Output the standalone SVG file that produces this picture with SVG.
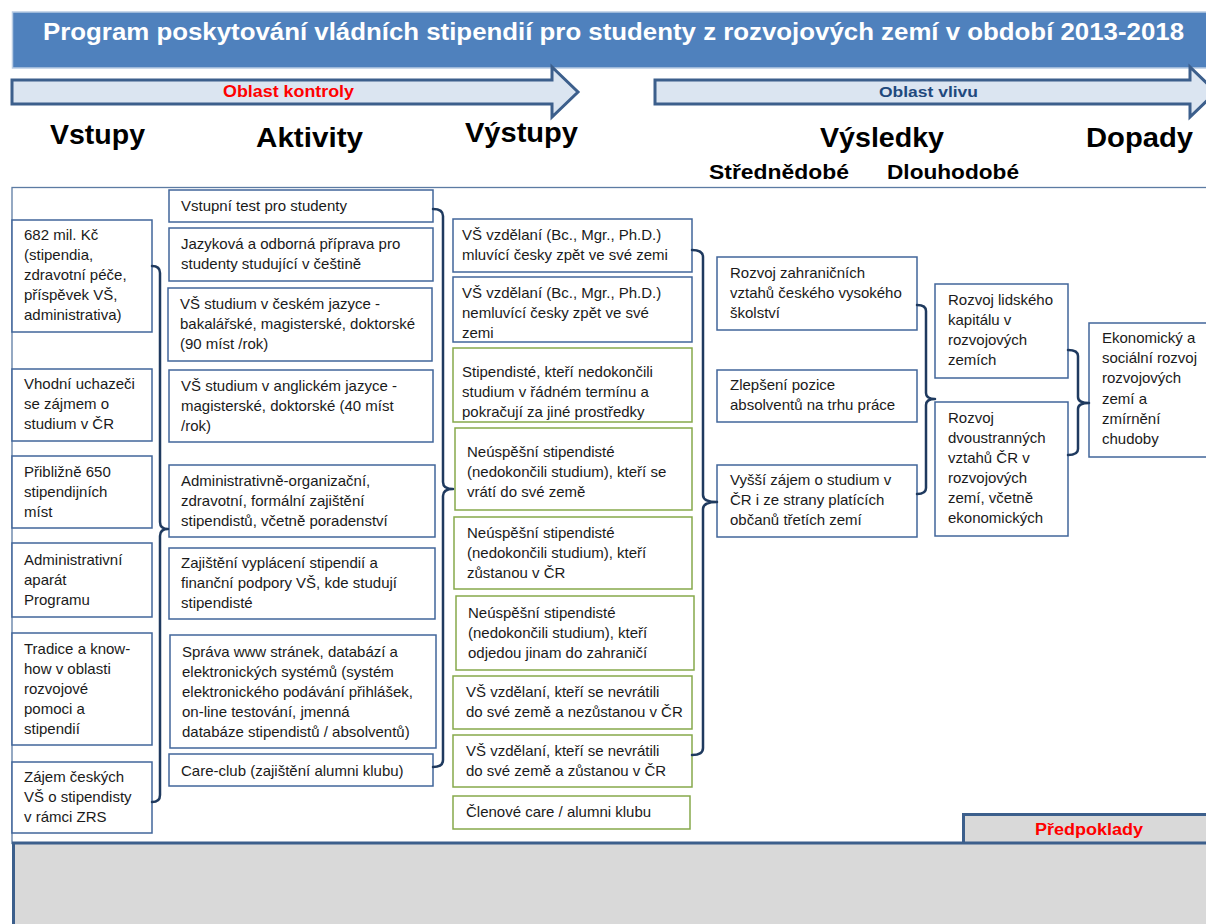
<svg xmlns="http://www.w3.org/2000/svg" width="1206" height="924" viewBox="0 0 1206 924">
<style>
.bg{fill:#FFFFFF}
.box{fill:#FFFFFF;stroke:#41669A;stroke-width:1.5}
.gbox{fill:#FFFFFF;stroke:#86A94B;stroke-width:1.5}
.t{font-family:'Liberation Sans',Arial,sans-serif;font-size:15px;fill:#1A1A1A}
.h{font-family:'Liberation Sans',Arial,sans-serif;font-weight:bold;fill:#000000}
.brace{fill:none;stroke:#1F3A5F;stroke-width:2.5;stroke-linejoin:round;stroke-linecap:round}
.arrow{fill:#DBE5F1;stroke:#3C5F8C;stroke-width:3;stroke-linejoin:miter}
.gray{fill:#D9D9D9;stroke:#3C5F8C;stroke-width:3}
.frame{fill:none;stroke:#5C7BA3;stroke-width:1.3}
</style>
<rect class="bg" x="0" y="0" width="1206" height="924"/>

<g id="title">
<rect x="12.5" y="12" width="1200" height="56" fill="#4F81BD" stroke="#B8CCE4" stroke-width="1.5"/>
<text x="43" y="40" class="h" style="fill:#FFFFFF;font-size:23px" textLength="1141" lengthAdjust="spacingAndGlyphs">Program poskytování vládních stipendií pro studenty z rozvojových zemí v období 2013-2018</text>
</g>

<g id="oblast-kontroly">
<polygon class="arrow" points="12,80 552,80 552,67 578,92 552,117 552,104 12,104"/>
<text x="223" y="97" class="h" style="fill:#FF0000;font-size:16px" textLength="131" lengthAdjust="spacingAndGlyphs">Oblast kontroly</text>
</g>
<g id="oblast-vlivu">
<polygon class="arrow" points="655,80 1190,80 1190,67 1216,92 1190,117 1190,104 655,104"/>
<text x="879" y="97" class="h" style="fill:#1F497D;font-size:15px" textLength="99" lengthAdjust="spacingAndGlyphs">Oblast vlivu</text>
</g>

<g id="headings">
<text x="50" y="144" class="h" style="font-size:28px" textLength="95" lengthAdjust="spacingAndGlyphs">Vstupy</text>
<text x="256" y="147" class="h" style="font-size:28px" textLength="107" lengthAdjust="spacingAndGlyphs">Aktivity</text>
<text x="465" y="142" class="h" style="font-size:28px" textLength="113" lengthAdjust="spacingAndGlyphs">Výstupy</text>
<text x="820" y="147" class="h" style="font-size:28px" textLength="124" lengthAdjust="spacingAndGlyphs">Výsledky</text>
<text x="1086" y="147" class="h" style="font-size:28px" textLength="107" lengthAdjust="spacingAndGlyphs">Dopady</text>
<text x="709" y="179" class="h" style="font-size:21px" textLength="140" lengthAdjust="spacingAndGlyphs">Střednědobé</text>
<text x="887" y="179" class="h" style="font-size:21px" textLength="132" lengthAdjust="spacingAndGlyphs">Dlouhodobé</text>
</g>

<rect class="frame" x="12" y="187.5" width="1210" height="656"/>

<g id="predpoklady">
<rect class="gray" x="963.5" y="814.5" width="250" height="29"/>
<rect class="gray" x="13.5" y="843" width="1200" height="90"/>
<text x="1035" y="835" class="h" style="fill:#FF0000;font-size:16px" textLength="108" lengthAdjust="spacingAndGlyphs">Předpoklady</text>
</g>

<!-- Vstupy -->
<g id="in1"><rect class="box" x="12" y="220" width="140" height="112"/>
<text class="t"><tspan x="24" y="240">682 mil. Kč</tspan><tspan x="24" y="260">(stipendia,</tspan><tspan x="24" y="280">zdravotní péče,</tspan><tspan x="24" y="300">příspěvek VŠ,</tspan><tspan x="24" y="320">administrativa)</tspan></text></g>
<g id="in2"><rect class="box" x="12" y="369" width="140" height="72"/>
<text class="t"><tspan x="24" y="389">Vhodní uchazeči</tspan><tspan x="24" y="409">se zájmem  o</tspan><tspan x="24" y="429">studium v ČR</tspan></text></g>
<g id="in3"><rect class="box" x="12" y="456" width="140" height="72"/>
<text class="t"><tspan x="24" y="477">Přibližně 650</tspan><tspan x="24" y="497">stipendijních</tspan><tspan x="24" y="517">míst</tspan></text></g>
<g id="in4"><rect class="box" x="12" y="543" width="140" height="74"/>
<text class="t"><tspan x="24" y="565">Administrativní</tspan><tspan x="24" y="585">aparát</tspan><tspan x="24" y="605">Programu</tspan></text></g>
<g id="in5"><rect class="box" x="12" y="633" width="140" height="112"/>
<text class="t"><tspan x="24" y="654">Tradice a know-</tspan><tspan x="24" y="674">how v oblasti</tspan><tspan x="24" y="694">rozvojové</tspan><tspan x="24" y="714">pomoci a</tspan><tspan x="24" y="734">stipendií</tspan></text></g>
<g id="in6"><rect class="box" x="12" y="762" width="140" height="71"/>
<text class="t"><tspan x="24" y="782">Zájem českých</tspan><tspan x="24" y="802">VŠ o stipendisty</tspan><tspan x="24" y="822">v rámci ZRS</tspan></text></g>

<!-- Aktivity -->
<g id="a1"><rect class="box" x="169" y="190" width="264" height="32"/>
<text class="t"><tspan x="181" y="211">Vstupní test pro studenty</tspan></text></g>
<g id="a2"><rect class="box" x="169" y="228" width="264" height="53"/>
<text class="t"><tspan x="181" y="249">Jazyková a odborná příprava pro</tspan><tspan x="181" y="269">studenty studující v češtině</tspan></text></g>
<g id="a3"><rect class="box" x="168" y="288" width="264" height="73"/>
<text class="t"><tspan x="180" y="309">VŠ studium v českém jazyce  -</tspan><tspan x="180" y="329">bakalářské, magisterské, doktorské</tspan><tspan x="180" y="349">(90 míst /rok)</tspan></text></g>
<g id="a4"><rect class="box" x="169" y="370" width="264" height="72"/>
<text class="t"><tspan x="181" y="391">VŠ studium v anglickém jazyce -</tspan><tspan x="181" y="411">magisterské, doktorské (40 míst</tspan><tspan x="181" y="431">/rok)</tspan></text></g>
<g id="a5"><rect class="box" x="169" y="465" width="266" height="72"/>
<text class="t"><tspan x="181" y="486">Administrativně-organizační,</tspan><tspan x="181" y="506">zdravotní, formální zajištění</tspan><tspan x="181" y="526">stipendistů, včetně poradenství</tspan></text></g>
<g id="a6"><rect class="box" x="169" y="548" width="266" height="71"/>
<text class="t"><tspan x="181" y="568">Zajištění vyplácení stipendií a</tspan><tspan x="181" y="588">finanční podpory VŠ, kde studují</tspan><tspan x="181" y="608">stipendisté</tspan></text></g>
<g id="a7"><rect class="box" x="170" y="635" width="266" height="113"/>
<text class="t"><tspan x="182" y="657">Správa www  stránek, databází a</tspan><tspan x="182" y="677">elektronických systémů (systém</tspan><tspan x="182" y="697">elektronického podávání přihlášek,</tspan><tspan x="182" y="717">on-line testování,  jmenná</tspan><tspan x="182" y="737">databáze stipendistů / absolventů)</tspan></text></g>
<g id="a8"><rect class="box" x="169" y="754" width="264" height="32"/>
<text class="t"><tspan x="181" y="776">Care-club (zajištění alumni klubu)</tspan></text></g>

<!-- Výstupy -->
<g id="o1"><rect class="box" x="453" y="219" width="239" height="53"/>
<text class="t"><tspan x="462" y="240">VŠ vzdělaní (Bc., Mgr., Ph.D.)</tspan><tspan x="462" y="260">mluvící česky zpět ve své zemi</tspan></text></g>
<g id="o2"><rect class="box" x="453" y="277" width="239" height="65"/>
<text class="t"><tspan x="462" y="298">VŠ vzdělaní (Bc., Mgr., Ph.D.)</tspan><tspan x="462" y="318">nemluvící česky zpět ve své</tspan><tspan x="462" y="338">zemi</tspan></text></g>
<g id="o3"><rect class="gbox" x="453" y="348" width="239" height="74"/>
<text class="t"><tspan x="462" y="377">Stipendisté, kteří nedokončili</tspan><tspan x="462" y="397">studium v řádném termínu a</tspan><tspan x="462" y="417">pokračují za jiné prostředky</tspan></text></g>
<g id="o4"><rect class="gbox" x="455" y="428" width="237" height="82"/>
<text class="t"><tspan x="467" y="457">Neúspěšní stipendisté</tspan><tspan x="467" y="477">(nedokončili studium), kteří se</tspan><tspan x="467" y="497">vrátí do své země</tspan></text></g>
<g id="o5"><rect class="gbox" x="454" y="517" width="238" height="72"/>
<text class="t"><tspan x="467" y="538">Neúspěšní stipendisté</tspan><tspan x="467" y="558">(nedokončili studium), kteří</tspan><tspan x="467" y="578">zůstanou v ČR</tspan></text></g>
<g id="o6"><rect class="gbox" x="456" y="596" width="238" height="74"/>
<text class="t"><tspan x="468" y="618">Neúspěšní stipendisté</tspan><tspan x="468" y="638">(nedokončili studium), kteří</tspan><tspan x="468" y="658">odjedou jinam do zahraničí</tspan></text></g>
<g id="o7"><rect class="gbox" x="453" y="676" width="239" height="53"/>
<text class="t"><tspan x="466" y="697">VŠ vzdělaní, kteří se nevrátili</tspan><tspan x="466" y="717">do své země a nezůstanou v ČR</tspan></text></g>
<g id="o8"><rect class="gbox" x="453" y="735" width="239" height="52"/>
<text class="t"><tspan x="466" y="756">VŠ vzdělaní, kteří se nevrátili</tspan><tspan x="466" y="776">do své země a zůstanou  v ČR</tspan></text></g>
<g id="o9"><rect class="gbox" x="453" y="796" width="237" height="33"/>
<text class="t"><tspan x="466" y="817">Členové care / alumni klubu</tspan></text></g>

<!-- Výsledky -->
<g id="r1"><rect class="box" x="717" y="257" width="200" height="73"/>
<text class="t"><tspan x="730" y="278">Rozvoj zahraničních</tspan><tspan x="730" y="298">vztahů českého vysokého</tspan><tspan x="730" y="318">školství</tspan></text></g>
<g id="r2"><rect class="box" x="717" y="370" width="200" height="52"/>
<text class="t"><tspan x="730" y="390">Zlepšení pozice</tspan><tspan x="730" y="410">absolventů na trhu práce</tspan></text></g>
<g id="r3"><rect class="box" x="717" y="465" width="200" height="72"/>
<text class="t"><tspan x="730" y="485">Vyšší zájem o studium v</tspan><tspan x="730" y="505">ČR i ze strany platících</tspan><tspan x="730" y="525">občanů třetích zemí</tspan></text></g>
<g id="r4"><rect class="box" x="935" y="284" width="133" height="94"/>
<text class="t"><tspan x="948" y="305">Rozvoj lidského</tspan><tspan x="948" y="325">kapitálu v</tspan><tspan x="948" y="345">rozvojových</tspan><tspan x="948" y="365">zemích</tspan></text></g>
<g id="r5"><rect class="box" x="935" y="402" width="133" height="134"/>
<text class="t"><tspan x="948" y="423">Rozvoj</tspan><tspan x="948" y="443">dvoustranných</tspan><tspan x="948" y="463">vztahů ČR v</tspan><tspan x="948" y="483">rozvojových</tspan><tspan x="948" y="503">zemí, včetně</tspan><tspan x="948" y="523">ekonomických</tspan></text></g>

<!-- Dopady -->
<g id="d1"><rect class="box" x="1089" y="323" width="130" height="134"/>
<text class="t"><tspan x="1102" y="343">Ekonomický a</tspan><tspan x="1102" y="363">sociální rozvoj</tspan><tspan x="1102" y="383">rozvojových</tspan><tspan x="1102" y="404">zemí a</tspan><tspan x="1102" y="424">zmírnění</tspan><tspan x="1102" y="444">chudoby</tspan></text></g>

<g id="connectors">
<path class="brace" d="M152,266 Q160,266 160,273 V522 Q160,529 168,529 M168,529 Q160,529 160,536 V795 Q160,802 152,802"/>
<path class="brace" d="M433,209 Q443,209 443,216 V482 Q443,489 453,489 M453,489 Q443,489 443,496 V760 Q443,767 433,767"/>
<path class="brace" d="M692,250 Q703,250 703,257 V495 Q703,502 717,502 M717,502 Q703,502 703,509 V748 Q703,755 692,755"/>
<path class="brace" d="M917,305 Q926,305 926,311 V393 Q926,399 935,399 M935,399 Q926,399 926,405 V488 Q926,494 917,494"/>
<path class="brace" d="M1068,350 Q1078,350 1078,356 V397 Q1078,403 1089,403 M1089,403 Q1078,403 1078,409 V449 Q1078,455 1068,455"/>
</g>
</svg>
